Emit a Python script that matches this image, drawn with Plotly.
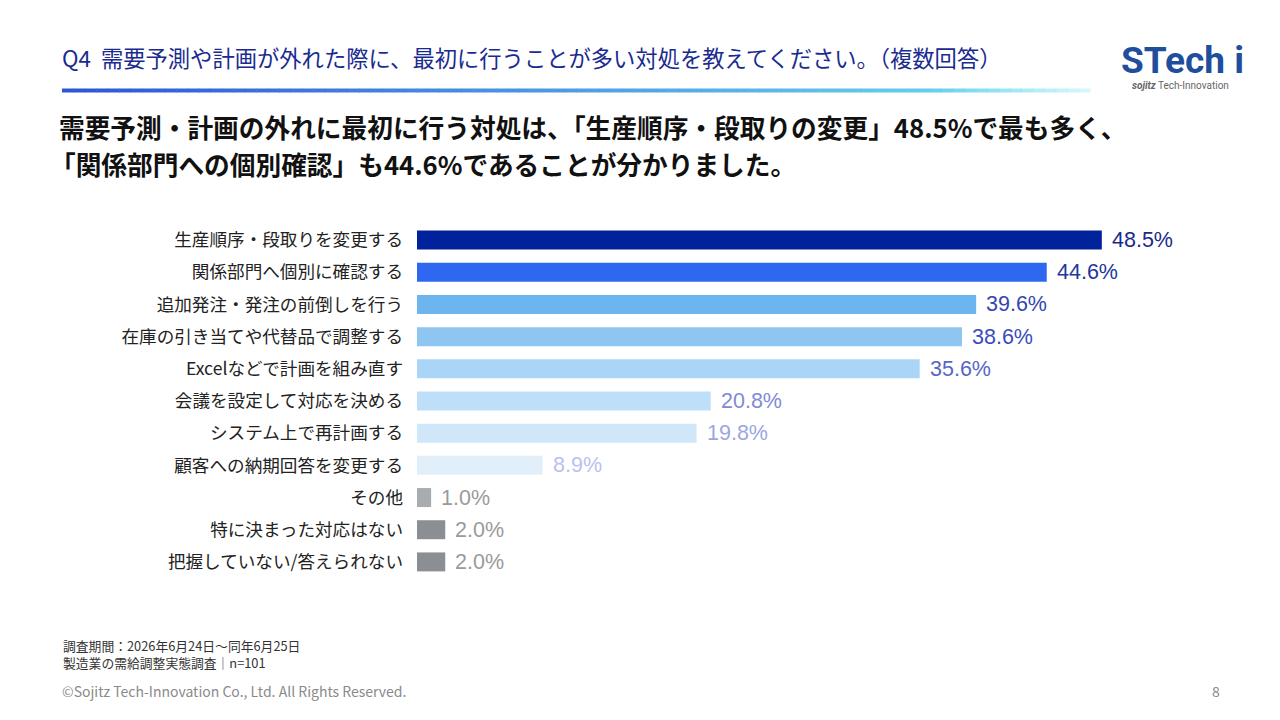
import plotly.graph_objects as go

categories = [
    "生産順序・段取りを変更する",
    "関係部門へ個別に確認する",
    "追加発注・発注の前倒しを行う",
    "在庫の引き当てや代替品で調整する",
    "Excelなどで計画を組み直す",
    "会議を設定して対応を決める",
    "システム上で再計画する",
    "顧客への納期回答を変更する",
    "その他",
    "特に決まった対応はない",
    "把握していない/答えられない",
]
values = [48.5, 44.6, 39.6, 38.6, 35.6, 20.8, 19.8, 8.9, 1.0, 2.0, 2.0]

bar_colors = ["#00229b", "#2f68f0", "#6cb5ee", "#8ec6f1", "#abd5f6", "#bfdff8",
              "#d0e7f9", "#e1effb", "#a9acaf", "#8b8f93", "#8b8f93"]
label_colors = ["#1b2a8a", "#23379c", "#3447b0", "#3a4db8", "#5566c6", "#7f8ad6",
                "#9ba6e2", "#b9c1ef", "#9a9a9a", "#9a9a9a", "#9a9a9a"]

W, H = 1280, 720
L, R, T, B = 417, 86, 224, 142
PW, PH = W - L - R, H - T - B


def px(p):
    return (p - L) / PW


def py(q):
    return (H - B - q) / PH


JP = "Noto Sans CJK JP"

fig = go.Figure()
fig.add_trace(go.Bar(
    x=values,
    y=categories,
    orientation="h",
    marker=dict(color=bar_colors, line=dict(width=0)),
    hoverinfo="skip",
))

# value labels just right of each bar end
annotations = []
for cat, v, col in zip(categories, values, label_colors):
    annotations.append(dict(
        text=f"{v:.1f}%", x=v, y=cat, xref="x", yref="y",
        xanchor="left", yanchor="middle", xshift=8, yshift=0,
        font=dict(family="Liberation Sans, Arial", size=21.5, color=col),
        showarrow=False,
    ))

# gradient rule under the question title
shapes = []
n_seg = 90
x0, x1 = 62, 1090
c0, c1 = (0x2e, 0x55, 0xd8), (0x70, 0xe4, 0xf2)
for i in range(n_seg):
    t = i / (n_seg - 1)
    col = tuple(int(c0[k] + (c1[k] - c0[k]) * t) for k in range(3))
    a = 1.0 if t < 0.85 else 1.0 - (t - 0.85) / 0.15 * 0.7
    seg_w = (x1 - x0) / n_seg
    shapes.append(dict(
        type="rect", xref="paper", yref="paper",
        x0=px(x0 + i * seg_w), x1=px(x0 + (i + 1) * seg_w + 0.5),
        y0=py(92.5), y1=py(88.5),
        fillcolor=f"rgba({col[0]},{col[1]},{col[2]},{a:.2f})",
        line=dict(width=0), layer="above",
    ))

page_text = [
    dict(text="Q4  需要予測や計画が外れた際に、最初に行うことが多い対処を教えてください。（複数回答）",
         x=px(60), y=py(57), xanchor="left", yanchor="middle",
         font=dict(family=JP, size=22.3, color="#1a2b8f")),
    dict(text="需要予測・計画の外れに最初に行う対処は、「生産順序・段取りの変更」48.5%で最も多く、",
         x=px(57), y=py(127), xanchor="left", yanchor="middle",
         font=dict(family=JP, size=25.7, color="#111111", weight="bold")),
    dict(text="「関係部門への個別確認」も44.6%であることが分かりました。",
         x=px(48), y=py(163), xanchor="left", yanchor="middle",
         font=dict(family=JP, size=25.7, color="#111111", weight="bold")),
    dict(text="調査期間：2026年6月24日～同年6月25日<br>製造業の需給調整実態調査｜n=101",
         x=px(61), y=py(654), xanchor="left", yanchor="middle", align="left",
         font=dict(family=JP, size=12.8, color="#333333")),
    dict(text="©Sojitz Tech-Innovation Co., Ltd. All Rights Reserved.",
         x=px(60), y=py(691), xanchor="left", yanchor="middle",
         font=dict(family=JP, size=14, color="#8a8a8a")),
    dict(text="8", x=px(1222), y=py(691), xanchor="right", yanchor="middle",
         font=dict(family=JP, size=14, color="#8a8a8a")),
    # logo
    dict(text="<b>STech i</b>", x=px(1182), y=py(60), xanchor="center", yanchor="middle",
         font=dict(family="Roboto", size=37, color="#1f4e9c")),
    dict(text="<b><i>sojitz</i></b> Tech-Innovation", x=px(1180), y=py(86),
         xanchor="center", yanchor="middle",
         font=dict(family="Roboto", size=10, color="#666666")),
]
for a in page_text:
    a.update(xref="paper", yref="paper", showarrow=False)
annotations += page_text

fig.update_layout(
    width=W, height=H,
    margin=dict(l=L, r=R, t=T, b=B, autoexpand=False),
    paper_bgcolor="white",
    plot_bgcolor="white",
    showlegend=False,
    bargap=0.41,
    xaxis=dict(range=[0, PW / 14.12], visible=False, fixedrange=True),
    yaxis=dict(
        categoryorder="array", categoryarray=categories, autorange="reversed",
        showgrid=False, zeroline=False, showline=False, ticks="",
        ticklabelstandoff=13,
        tickfont=dict(family=JP, size=17.6, color="#222222"),
        fixedrange=True,
    ),
    shapes=shapes,
    annotations=annotations,
)

fig.write_html("out.html", config={"displayModeBar": False},
               post_script="document.body.style.margin='0px';")
